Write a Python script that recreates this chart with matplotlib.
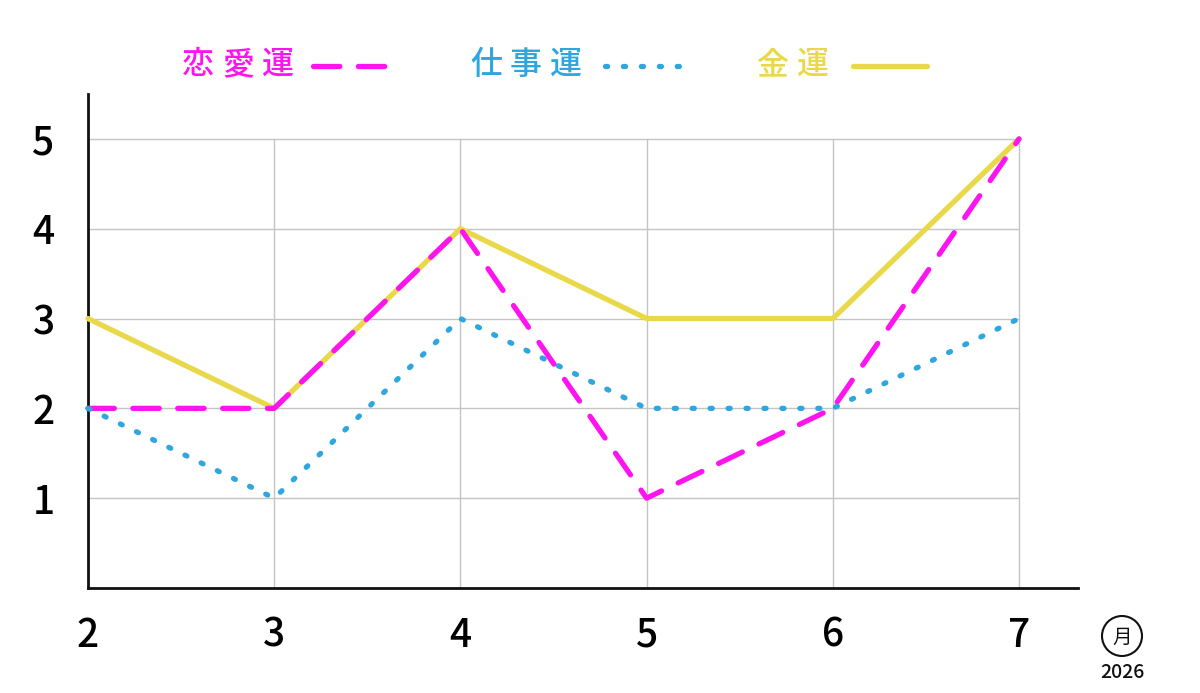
import matplotlib
matplotlib.use("Agg")
import matplotlib.pyplot as plt
from matplotlib.lines import Line2D
from matplotlib.patches import Ellipse

plt.rcParams['font.family'] = ['Noto Sans CJK JP', 'DejaVu Sans']

# data
months = [2, 3, 4, 5, 6, 7]
love = [2, 2, 4, 1, 2, 5]      # 恋愛運
work = [2, 1, 3, 2, 2, 3]      # 仕事運
money = [3, 2, 4, 3, 3, 5]     # 金運
yticks = [1, 2, 3, 4, 5]
names = ['恋愛運', '仕事運', '金運']
year = '2026'

c_love = '#ff14f0'
c_work = '#2ea6df'
c_money = '#e8d84a'
dash_love = (0, (5, 3.5))
dot_work = (0, (0.4, 3.0))

fig = plt.figure(figsize=(12, 6.93), dpi=100)
ax = fig.add_axes([88/1200, 1 - 588/693, (1078 - 88)/1200, (588 - 94)/693])

# grid only inside the data box
ax.hlines(yticks, months[0], months[-1], color='#c4c4c4', lw=1, zorder=1)
ax.vlines(months[1:], 0, max(yticks), color='#c4c4c4', lw=1, zorder=1)

lw = 3.8
ax.plot(months, money, color=c_money, lw=lw, solid_capstyle='round', zorder=3, clip_on=False)
ax.plot(months, love, color=c_love, lw=lw, linestyle=dash_love,
        dash_capstyle='round', zorder=4, clip_on=False)
ax.plot(months, work, color=c_work, lw=lw, linestyle=dot_work,
        dash_capstyle='round', zorder=5, clip_on=False)

ax.set_xlim(2, 7 + 59/186.2)
ax.set_ylim(0, 5.5)
ax.set_xticks(months)
ax.set_yticks(yticks)
ax.tick_params(length=0, labelsize=28)
ax.tick_params(axis='x', pad=20)
ax.tick_params(axis='y', pad=24)
for lab in ax.get_xticklabels() + ax.get_yticklabels():
    lab.set_fontweight('medium')
for s in ['top', 'right']:
    ax.spines[s].set_visible(False)
for s in ['left', 'bottom']:
    ax.spines[s].set_linewidth(2)
    ax.spines[s].set_color('#111111')

# legend drawn by hand (spaced characters)
def fx(px):
    return px / 1200

def fy(py):
    return 1 - py / 693

leg = [
    (names[0], 198, c_love, dash_love, 313, 387),
    (names[1], 486, c_work, dot_work, 605, 683),
    (names[2], 773, c_money, '-', 853, 927),
]
for text, x0, col, ls, l0, l1 in leg:
    for i, ch in enumerate(text):
        fig.text(fx(x0 + i * 40), fy(65), ch, color=col, fontsize=23,
                 fontweight='medium', ha='center', va='center')
    fig.add_artist(Line2D([fx(l0), fx(l1)], [fy(66), fy(66)], color=col, lw=lw,
                          linestyle=ls, dash_capstyle='round',
                          solid_capstyle='round', transform=fig.transFigure))

# month marker
fig.add_artist(Ellipse((fx(1122), fy(636)), 40 / 1200, 40 / 693, fill=False,
                       ec='#111111', lw=1.5, transform=fig.transFigure))
fig.text(fx(1122), fy(637), '月', fontsize=14, ha='center', va='center', color='#111111')
fig.text(fx(1122), fy(672), year, fontsize=14, fontweight='medium',
         ha='center', va='center', color='#111111')

fig.savefig('out.png', dpi=100)
